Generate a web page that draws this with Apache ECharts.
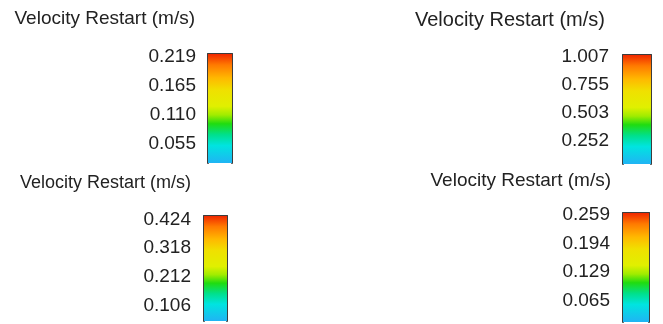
<!DOCTYPE html>
<html>
<head>
  <meta charset="utf-8">
  <script src="https://cdn.jsdelivr.net/npm/echarts@6/dist/echarts.min.js"></script>
  <style>
    html, body { margin: 0; padding: 0; background: #fff; }
    #chart { width: 663px; height: 324px; }
  </style>
</head>
<body>
  <div id="chart"></div>
  <script>
    // legend titles
    var titles = ['Velocity Restart (m/s)', 'Velocity Restart (m/s)', 'Velocity Restart (m/s)', 'Velocity Restart (m/s)'];

    // tick labels of each colour bar (top to bottom)
    var ticks1 = [0.219, 0.165, 0.110, 0.055];
    var ticks2 = [1.007, 0.755, 0.503, 0.252];
    var ticks3 = [0.424, 0.318, 0.212, 0.106];
    var ticks4 = [0.259, 0.194, 0.129, 0.065];

    // value range visible in each (cropped) bar: [bottom, top]
    var range1 = [0.0198, 0.224];
    var range2 = [0.037, 1.025];
    var range3 = [0.049, 0.437];
    var range4 = [0.0163, 0.2629];

    var allTicks = [ticks1, ticks2, ticks3, ticks4];
    var allRanges = [range1, range2, range3, range4];

    // layout of the four panels
    var panels = [
      { left: 208, top: 54, width: 24, height: 109, margin: 12, titleRight: 468, titleTop: 9, titleSize: 19 },
      { left: 623, top: 55, width: 28, height: 109, margin: 14, titleRight: 58, titleTop: 10, titleSize: 20 },
      { left: 204, top: 216, width: 23, height: 105, margin: 13, titleRight: 472, titleTop: 174, titleSize: 18 },
      { left: 623, top: 213, width: 26, height: 109, margin: 13, titleRight: 52, titleTop: 171, titleSize: 19 }
    ];

    var rainbow = new echarts.graphic.LinearGradient(0, 0, 0, 1, [
      { offset: 0, color: '#f02800' },
      { offset: 0.1, color: '#ff7a00' },
      { offset: 0.22, color: '#ffb800' },
      { offset: 0.33, color: '#f0e000' },
      { offset: 0.48, color: '#e0f000' },
      { offset: 0.56, color: '#a0ec00' },
      { offset: 0.64, color: '#20dc10' },
      { offset: 0.74, color: '#00e08c' },
      { offset: 0.84, color: '#00e4e0' },
      { offset: 1, color: '#20b4f4' }
    ]);

    var font = 'Liberation Sans, Arial, sans-serif';
    var edge = { show: true, lineStyle: { color: '#3c3c3c', width: 2 } };

    var option = { animation: false, title: [], grid: [], xAxis: [], yAxis: [], series: [] };

    panels.forEach(function (p, i) {
      option.title.push({
        text: titles[i],
        right: p.titleRight,
        top: p.titleTop,
        padding: 0,
        textStyle: { fontFamily: font, fontSize: p.titleSize, fontWeight: 'normal', color: '#222' }
      });
      option.grid.push({ left: p.left, top: p.top, width: p.width, height: p.height, outerBoundsMode: 'none' });
      option.xAxis.push({
        type: 'category', gridIndex: i, position: 'top', data: [''],
        axisLine: edge, axisTick: { show: false }, axisLabel: { show: false }
      });
      var lo = allRanges[i][0], hi = allRanges[i][1];
      // left axis carries the tick labels
      option.yAxis.push({
        type: 'value', gridIndex: i, position: 'left', min: lo, max: hi,
        axisLine: edge, axisTick: { show: false }, splitLine: { show: false },
        axisLabel: {
          customValues: allTicks[i], margin: p.margin,
          fontFamily: font, fontSize: 19, color: '#222',
          formatter: function (v) { return v.toFixed(3); }
        }
      });
      // right axis is just the right edge of the bar
      option.yAxis.push({
        type: 'value', gridIndex: i, position: 'right', min: lo, max: hi,
        axisLine: edge, axisTick: { show: false }, splitLine: { show: false }, axisLabel: { show: false }
      });
      option.series.push({
        type: 'bar', xAxisIndex: i, yAxisIndex: i * 2, barWidth: '100%', clip: true,
        itemStyle: { color: rainbow },
        data: [hi]
      });
    });

    var chart = echarts.init(document.getElementById('chart'));
    chart.setOption(option);
  </script>
</body>
</html>
